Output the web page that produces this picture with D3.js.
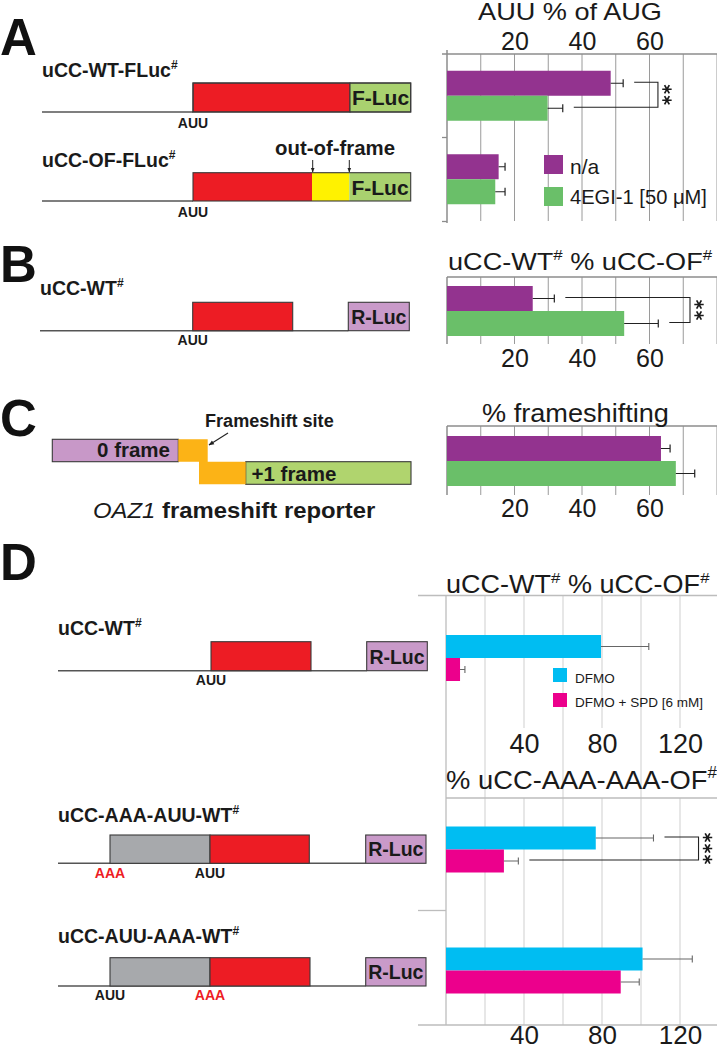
<!DOCTYPE html>
<html><head><meta charset="utf-8">
<script src="https://cdn.jsdelivr.net/npm/d3@7"></script>
<style>
body{margin:0;background:#fff}
svg{display:block}
text{font-family:"Liberation Sans",Arial,Helvetica,sans-serif}
</style>
</head><body>
<svg id="c" width="717" height="1050"></svg>
<script>
// ---------------- DATA ----------------
const seriesABC = ["n/a", "4EGI-1 [50 μM]"];
const groupsA = ["uCC-WT-FLuc", "uCC-OF-FLuc"];
const valuesA_na = [48.5, 15.3];
const errorsA_na = [3.7, 1.9];
const valuesA_egi = [29.8, 14.3];
const errorsA_egi = [4.5, 2.9];
const groupsB = ["uCC-WT"];
const valuesB_na = [25.4];
const errorsB_na = [6.4];
const valuesB_egi = [52.5];
const errorsB_egi = [10.1];
const groupsC = ["OAZ1"];
const valuesC_na = [63.4];
const errorsC_na = [2.7];
const valuesC_egi = [67.8];
const errorsC_egi = [5.6];
const seriesD = ["DFMO", "DFMO + SPD [6 mM]"];
const groupsD1 = ["uCC-WT"];
const valuesD1_dfmo = [79.5];
const errorsD1_dfmo = [24.5];
const valuesD1_spd = [7.2];
const errorsD1_spd = [2.5];
const groupsD2 = ["uCC-AAA-AUU-WT", "uCC-AUU-AAA-WT"];
const valuesD2_dfmo = [76.8, 100.8];
const errorsD2_dfmo = [29.6, 25.5];
const valuesD2_spd = [29.7, 89.6];
const errorsD2_spd = [7.4, 9.5];
const ticksABC = [20, 40, 60];
const gridABC = [10, 20, 30, 40, 50, 60, 70, 80];
const ticksD = [40, 80, 120];
const gridD = [20, 40, 60, 80, 100, 120, 140];
const sigA = {group: "uCC-WT-FLuc", at: 62.5, stars: 2};
const sigB = {group: "uCC-WT", at: 72, stars: 2};
const sigD2 = {group: "uCC-AAA-AUU-WT", at: 129.5, stars: 3};

// ---------------- STYLE ----------------
const C_PURPLE = "#93338f", C_GREEN = "#6abf69", C_CYAN = "#00bdf2", C_MAGENTA = "#ec008c";
const C_RED = "#ed1c24", C_YEL = "#fff200", C_FLUC = "#a9d16f", C_RLUC = "#c99ac9",
      C_GRAY = "#a7a9ac", C_ORANGE = "#fcb316", C_TXT = "#1a1a1a";

const svg = d3.select("#c");
const defs = svg.append("defs");
defs.append("marker").attr("id", "ah").attr("viewBox", "0 0 10 10")
  .attr("refX", 9).attr("refY", 5).attr("markerWidth", 5).attr("markerHeight", 5)
  .attr("orient", "auto")
  .append("path").attr("d", "M0,1 L10,5 L0,9 Z").attr("fill", "#222");

function label(parent, o) {
  const g = parent.append("g").attr("transform", `translate(${o.x},${o.y})`);
  const t = g.append("text").attr("font-size", o.size).attr("font-weight", o.weight || "normal")
    .attr("fill", o.fill || C_TXT).attr("text-anchor", o.anchor || "start");
  const parts = typeof o.text === "string" ? [{t: o.text}] : o.text;
  let raised = false;
  parts.forEach(p => {
    const ts = t.append("tspan").text(p.t);
    if (p.sup) { ts.attr("font-size", o.size * 0.62).attr("dy", -o.size * 0.42); raised = true; }
    else if (raised) { ts.attr("dy", o.size * 0.42); raised = false; }
    if (p.style) ts.attr("font-style", p.style);
    if (p.weight) ts.attr("font-weight", p.weight);
  });
  if (o.width) {
    const w = t.node().getBBox().width;
    if (w > 0) g.attr("transform", `translate(${o.x},${o.y}) scale(${o.width / w},1)`);
  }
  return g;
}

// ---------------- CHART HELPERS ----------------
function chart(o) {
  const {x, y, groups, series, barH, errColor, capH, errW} = o;
  const g = svg.append("g");
  const data = [];
  groups.forEach((grp, gi) => series.forEach((s, si) =>
    data.push({grp, si, v: s.values[gi], e: s.errors[gi], color: s.color})));
  const yOff = d => y(d.grp) + y.bandwidth() / 2 - barH * series.length / 2 + d.si * barH;
  g.selectAll("rect").data(data).join("rect")
    .attr("x", x(0)).attr("y", yOff).attr("width", d => x(d.v) - x(0))
    .attr("height", barH).attr("fill", d => d.color);
  g.selectAll("path").data(data).join("path")
    .attr("d", d => {
      const yc = yOff(d) + barH / 2;
      return `M${x(d.v)},${yc}H${x(d.v + d.e)}M${x(d.v + d.e)},${yc - capH / 2}V${yc + capH / 2}`;
    })
    .attr("stroke", errColor).attr("stroke-width", errW).attr("fill", "none");
  return {data, yOff, barH};
}

function grid(x, vals, y1, y2, color) {
  svg.append("g").selectAll("line").data(vals).join("line")
    .attr("x1", d => x(d)).attr("x2", d => x(d)).attr("y1", y1).attr("y2", y2)
    .attr("stroke", color).attr("stroke-width", 1);
}
function hline(x1, x2, y, color, w) {
  svg.append("line").attr("x1", x1).attr("x2", x2).attr("y1", y).attr("y2", y)
    .attr("stroke", color).attr("stroke-width", w || 1);
}
function vline(x, y1, y2, color, w) {
  svg.append("line").attr("x1", x).attr("x2", x).attr("y1", y1).attr("y2", y2)
    .attr("stroke", color).attr("stroke-width", w || 1);
}
function tickAxis(x, vals, yBase, size) {
  const a = svg.append("g").attr("transform", `translate(0,${yBase})`)
    .call(d3.axisBottom(x).tickValues(vals).tickSize(0).tickPadding(0).tickFormat(d3.format("d")));
  a.select(".domain").remove();
  a.selectAll("text").attr("y", 0).attr("dy", 0).attr("font-size", size)
    .attr("font-family", '"Liberation Sans",Arial,sans-serif').attr("fill", C_TXT);
}
const starSym = d3.symbolAsterisk ? d3.symbol(d3.symbolAsterisk, 62) : null;
function bracket(x, ch, sig) {
  const top = ch.data.find(d => d.grp === sig.group && d.si === 0);
  const bot = ch.data.find(d => d.grp === sig.group && d.si === 1);
  const yT = ch.yOff(top) + ch.barH / 2 - 1, yB = ch.yOff(bot) + ch.barH / 2 - 1;
  const xa = x(sig.at);
  svg.append("path")
    .attr("d", `M${x(top.v + top.e) + 11},${yT}H${xa}V${yB}H${x(bot.v + bot.e) + 11}`)
    .attr("stroke", "#222").attr("stroke-width", 1.1).attr("fill", "none");
  const mid = (yT + yB) / 2;
  const ys = d3.range(sig.stars).map(i => mid + (i - (sig.stars - 1) / 2) * 11);
  if (starSym) {
    svg.append("g").selectAll("path").data(ys).join("path")
      .attr("transform", cy => `translate(${xa + 9},${cy}) rotate(90)`)
      .attr("d", starSym).attr("fill", "none").attr("stroke", C_TXT).attr("stroke-width", 1.7);
  } else {
    const t = svg.append("text").attr("font-size", 27).attr("text-anchor", "middle").attr("fill", C_TXT);
    ys.forEach(cy => t.append("tspan").attr("x", xa + 9).attr("y", cy + 15.5).text("*"));
  }
}

// ---------------- PANEL A/B/C CHARTS ----------------
const xABC = d3.scaleLinear().domain([0, 80]).range([447, 717]);
const GRID_ABC = "#9a9a9a", AX_ABC = "#8c8c8c";

// A
const yA = d3.scaleBand().domain(groupsA).range([54, 221]);
grid(xABC, gridABC, 54, 221, GRID_ABC);
hline(442, 717, 54, AX_ABC, 1.3);
vline(447, 50, 223, AX_ABC, 1.5);
hline(442, 447, yA(groupsA[1]), AX_ABC, 1.3);
hline(442, 447, 221.5, AX_ABC, 1.3);
const chA = chart({x: xABC, y: yA, groups: groupsA, barH: 25, errColor: "#222", capH: 8, errW: 1.2,
  series: [{values: valuesA_na, errors: errorsA_na, color: C_PURPLE},
           {values: valuesA_egi, errors: errorsA_egi, color: C_GREEN}]});
bracket(xABC, chA, sigA);
tickAxis(xABC, ticksABC, 50, 25);
label(svg, {x: 570, y: 20, text: "AUU % of AUG", size: 23, anchor: "middle", width: 184});
// legend A
svg.append("g").selectAll("rect").data(seriesABC).join("rect")
  .attr("x", 544).attr("y", (d, i) => 155 + i * 32).attr("width", 19).attr("height", 19)
  .attr("fill", (d, i) => [C_PURPLE, C_GREEN][i]);
label(svg, {x: 570, y: 174, text: seriesABC[0], size: 21});
label(svg, {x: 570, y: 204, text: seriesABC[1], size: 21, width: 137});

// B
const yB = d3.scaleBand().domain(groupsB).range([278, 344]);
grid(xABC, gridABC, 277, 344, GRID_ABC);
hline(447, 717, 277, AX_ABC, 1.3);
vline(447, 277, 344, AX_ABC, 1.5);
const chB = chart({x: xABC, y: yB, groups: groupsB, barH: 25, errColor: "#222", capH: 8, errW: 1.2,
  series: [{values: valuesB_na, errors: errorsB_na, color: C_PURPLE},
           {values: valuesB_egi, errors: errorsB_egi, color: C_GREEN}]});
bracket(xABC, chB, sigB);
tickAxis(xABC, ticksABC, 367, 25);
label(svg, {x: 448, y: 270, size: 24, width: 265,
  text: [{t: "uCC-WT"}, {t: "#", sup: true}, {t: " % uCC-OF"}, {t: "#", sup: true}]});

// C
const yC = d3.scaleBand().domain(groupsC).range([426, 496]);
grid(xABC, gridABC, 426, 495, GRID_ABC);
hline(447, 717, 426, AX_ABC, 1.3);
vline(447, 426, 495, AX_ABC, 1.5);
chart({x: xABC, y: yC, groups: groupsC, barH: 25, errColor: "#222", capH: 8, errW: 1.2,
  series: [{values: valuesC_na, errors: errorsC_na, color: C_PURPLE},
           {values: valuesC_egi, errors: errorsC_egi, color: C_GREEN}]});
tickAxis(xABC, ticksABC, 517, 25);
label(svg, {x: 482, y: 421.5, text: "% frameshifting", size: 25, width: 187});

// ---------------- PANEL D CHARTS ----------------
const xD = d3.scaleLinear().domain([0, 140]).range([446, 719]);
const GRID_D = "#cfcfcf", AX_D = "#bdbdbd";
grid(xD, gridD, 595, 728, GRID_D);
grid(xD, gridD.filter(v => !ticksD.includes(v)), 728, 798, GRID_D);
grid(xD, gridD, 798, 1025, GRID_D);
vline(446, 595, 1025, AX_D, 1.3);
hline(418, 717, 595.5, AX_D, 1.5);
hline(446, 717, 798, AX_D, 1.5);
hline(418, 446, 910.5, AX_D, 1.3);
hline(418, 717, 1025, AX_D, 1.3);

const yD1 = d3.scaleBand().domain(groupsD1).range([595, 721]);
chart({x: xD, y: yD1, groups: groupsD1, barH: 23, errColor: "#666", capH: 7, errW: 1.1,
  series: [{values: valuesD1_dfmo, errors: errorsD1_dfmo, color: C_CYAN},
           {values: valuesD1_spd, errors: errorsD1_spd, color: C_MAGENTA}]});
tickAxis(xD, ticksD, 753, 27);
label(svg, {x: 446, y: 593, size: 25, width: 264,
  text: [{t: "uCC-WT"}, {t: "#", sup: true}, {t: " % uCC-OF"}, {t: "#", sup: true}]});
svg.append("g").selectAll("rect").data(seriesD).join("rect")
  .attr("x", 553).attr("y", (d, i) => 668 + i * 25).attr("width", 14).attr("height", 14)
  .attr("fill", (d, i) => [C_CYAN, C_MAGENTA][i]);
label(svg, {x: 575, y: 682.5, text: seriesD[0], size: 13.5});
label(svg, {x: 575, y: 706.5, text: seriesD[1], size: 13.5, width: 128});

const yD2 = d3.scaleBand().domain(groupsD2).range([789, 1031]);
const chD2 = chart({x: xD, y: yD2, groups: groupsD2, barH: 23, errColor: "#666", capH: 7, errW: 1.1,
  series: [{values: valuesD2_dfmo, errors: errorsD2_dfmo, color: C_CYAN},
           {values: valuesD2_spd, errors: errorsD2_spd, color: C_MAGENTA}]});
bracket(xD, chD2, sigD2);
tickAxis(xD, ticksD, 1043.5, 26);
label(svg, {x: 446, y: 789, size: 26, width: 271,
  text: [{t: "% uCC-AAA-AAA-OF"}, {t: "#", sup: true}]});

// ---------------- LEFT DIAGRAMS ----------------
const LINE = "#555", BOX = "#3a3a3a";
function box(x1, x2, y1, y2, fill, stroke) {
  svg.append("rect").attr("x", x1).attr("y", y1).attr("width", x2 - x1).attr("height", y2 - y1)
    .attr("fill", fill).attr("stroke", stroke === undefined ? BOX : stroke).attr("stroke-width", 1.1);
}
function seg(x1, x2, y) { hline(x1, x2, y, LINE, 1.6); }
function big(t, y) { label(svg, {x: 0, y, text: t, size: 51, weight: "bold", fill: "#111"}); }
function cname(t, x, y) { label(svg, {x, y, size: 19.5, weight: "bold", text: [{t}, {t: "#", sup: true}]}); }
function codon(t, x, y, red) { label(svg, {x, y, text: t, size: 14, weight: "bold", anchor: "middle", fill: red ? "#ed1c24" : C_TXT}); }

// A
big("A", 55);
cname("uCC-WT-FLuc", 42, 77);
seg(42, 193, 112);
box(193, 350, 83, 112, C_RED);
box(350, 410.7, 83, 112, C_FLUC);
svg.append("rect").attr("x", 193).attr("y", 83).attr("width", 217.7).attr("height", 29).attr("fill", "none").attr("stroke", BOX).attr("stroke-width", 1.1);
label(svg, {x: 380.5, y: 105, text: "F-Luc", size: 21, weight: "bold", anchor: "middle"});
codon("AUU", 193, 128);

cname("uCC-OF-FLuc", 42, 166.7);
seg(42, 193, 201);
box(193, 312, 172.7, 201, C_RED, "none");
box(312, 349.3, 172.7, 201, C_YEL, "none");
box(349.3, 410.7, 172.7, 201, C_FLUC, "none");
svg.append("rect").attr("x", 193).attr("y", 172.7).attr("width", 217.7).attr("height", 28.3).attr("fill", "none").attr("stroke", BOX).attr("stroke-width", 1.1);
label(svg, {x: 380, y: 195, text: "F-Luc", size: 21, weight: "bold", anchor: "middle"});
codon("AUU", 193, 217);
label(svg, {x: 275, y: 155, text: "out-of-frame", size: 20, weight: "bold", width: 120});
[312.7, 349.3].forEach(ax => svg.append("line").attr("x1", ax).attr("x2", ax).attr("y1", 160).attr("y2", 172)
  .attr("stroke", "#222").attr("stroke-width", 1).attr("marker-end", "url(#ah)"));

// B
big("B", 282);
cname("uCC-WT", 40, 295);
seg(40, 348.3, 330.7);
box(192.7, 292.7, 302.3, 330.7, C_RED);
box(348.3, 409.3, 302.3, 330.7, C_RLUC);
label(svg, {x: 378.8, y: 323.5, text: "R-Luc", size: 19.5, weight: "bold", anchor: "middle"});
codon("AUU", 192.7, 345);

// C
big("C", 435.5);
box(52.3, 178.3, 439.3, 461.7, "#c898c8");
box(245.7, 411, 461.7, 484.3, "#b0d46e");
svg.append("polygon")
  .attr("points", "178.3,439.3 207.7,439.3 207.7,461.7 245.7,461.7 245.7,484.3 199,484.3 199,461.7 178.3,461.7")
  .attr("fill", C_ORANGE);
label(svg, {x: 170, y: 457, text: "0 frame", size: 20.5, weight: "bold", anchor: "end"});
label(svg, {x: 251.5, y: 480.5, text: "+1 frame", size: 20.5, weight: "bold"});
label(svg, {x: 205, y: 427.3, text: "Frameshift site", size: 17.5, weight: "bold", width: 129});
svg.append("line").attr("x1", 228).attr("y1", 433).attr("x2", 209).attr("y2", 445)
  .attr("stroke", "#222").attr("stroke-width", 1.1).attr("marker-end", "url(#ah)");
label(svg, {x: 93, y: 518, size: 22, width: 283,
  text: [{t: "OAZ1", style: "italic"}, {t: " frameshift reporter", weight: "bold"}]});

// D
big("D", 580);
cname("uCC-WT", 58, 635);
seg(58, 366.7, 670.7);
box(211, 311, 641.7, 670.7, C_RED);
box(366.7, 427.3, 641.7, 670.7, C_RLUC);
label(svg, {x: 397, y: 663.5, text: "R-Luc", size: 19.5, weight: "bold", anchor: "middle"});
codon("AUU", 211, 685);

cname("uCC-AAA-AUU-WT", 58, 821.7);
seg(58, 365.7, 863.3);
box(110, 210, 835, 863.3, C_GRAY);
box(210, 309.3, 835, 863.3, C_RED);
box(365.7, 426, 835, 863.3, C_RLUC);
label(svg, {x: 395.8, y: 856.3, text: "R-Luc", size: 19.5, weight: "bold", anchor: "middle"});
codon("AAA", 110, 877.5, true);
codon("AUU", 210, 877.5);

cname("uCC-AUU-AAA-WT", 58, 943.3);
seg(58, 365.7, 986);
box(110, 210, 957.7, 986, C_GRAY);
box(210, 310, 957.7, 986, C_RED);
box(365.7, 426, 957.7, 986, C_RLUC);
label(svg, {x: 395.8, y: 979, text: "R-Luc", size: 19.5, weight: "bold", anchor: "middle"});
codon("AUU", 110, 1000);
codon("AAA", 210, 1000, true);
</script>
</body></html>
